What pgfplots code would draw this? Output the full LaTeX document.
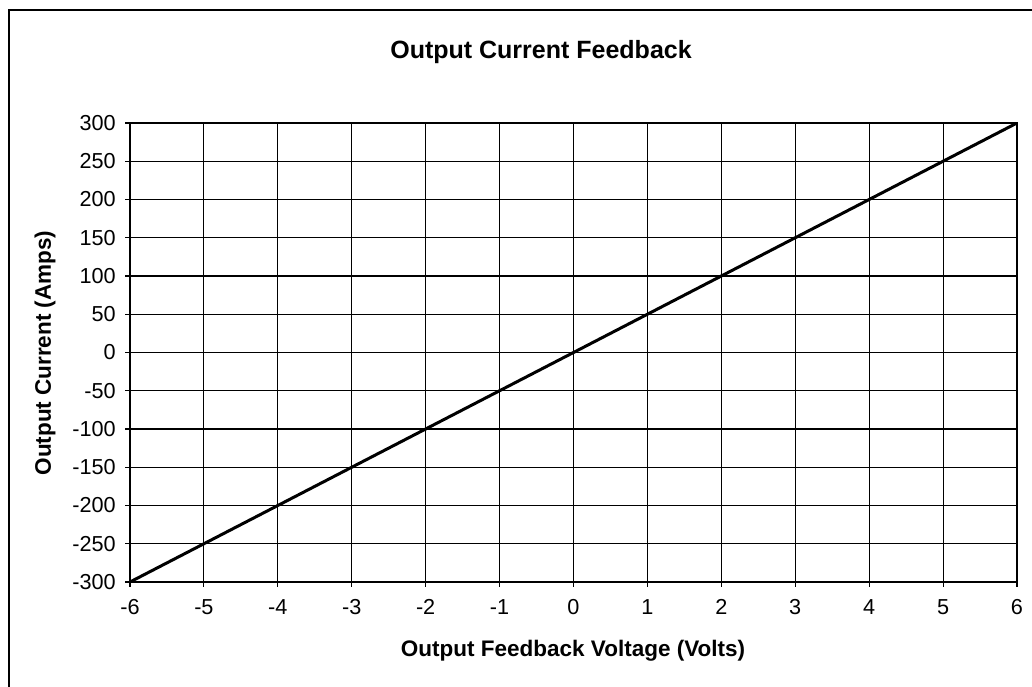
\documentclass[border=0pt]{standalone}
\usepackage{pgfplots}
\pgfplotsset{compat=1.18}
\usepackage{fontspec}
\setmainfont{Liberation Sans}
\begin{document}
\begin{tikzpicture}[x=0.6pt,y=0.6pt]
\useasboundingbox (0,0) rectangle (1032,687);
\draw[line width=1.2pt] (9,0) -- (9,677) -- (1032,677);
\begin{axis}[
  at={(78pt,63pt)}, anchor=south west,
  scale only axis, width=532.2pt, height=275.4pt,
  xmin=-6, xmax=6, ymin=-300, ymax=300,
  xtick={-6,...,6}, ytick={-300,-250,...,300},
  grid=major, major grid style={black, line width=0.7pt},
  axis line style={black, line width=0.9pt},
  tick style={black, line width=0.7pt},
  tick align=outside, major tick length=3pt,
  xtick pos=bottom, ytick pos=left,
  /pgf/number format/assume math mode=true,
  ticklabel style={font=\fontsize{13}{15}\selectfont},
  xticklabel style={yshift=-4pt},
  yticklabel style={xshift=-2pt},
  scaled y ticks=false,
]
\addplot[black, line width=1.8pt] coordinates {(-6,-300) (-5,-250) (-4,-200) (-3,-150) (-2,-100) (-1,-50) (0,0) (1,50) (2,100) (3,150) (4,200) (5,250) (6,300)};
\end{axis}
\node[font=\bfseries\fontsize{15}{17}\selectfont] at (541,635) {Output Current Feedback};
\node[font=\bfseries\fontsize{13.5}{15}\selectfont] at (573,36) {Output Feedback Voltage (Volts)};
\node[font=\bfseries\fontsize{13.5}{15}\selectfont, rotate=90] at (45,334) {Output Current (Amps)};
\end{tikzpicture}
\end{document}
